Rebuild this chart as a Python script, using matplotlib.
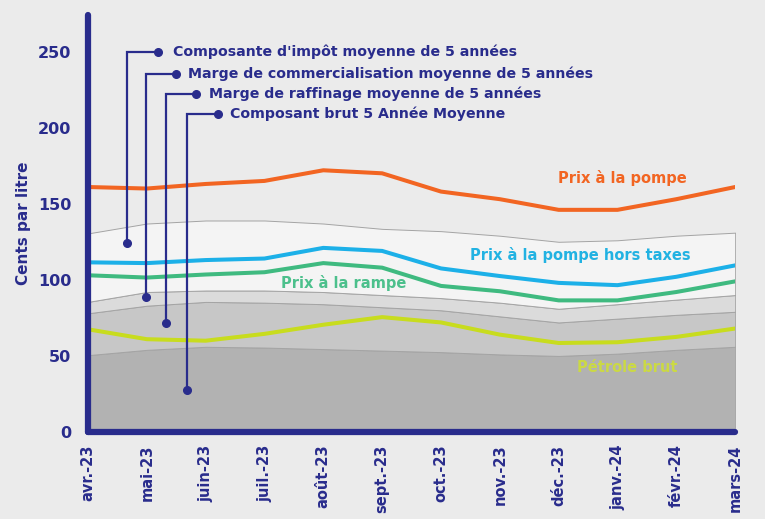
import matplotlib
matplotlib.use('Agg')
import matplotlib.pyplot as plt
import numpy as np

months = ['avr.-23', 'mai-23', 'juin-23', 'juil.-23', 'août-23', 'sept.-23',
          'oct.-23', 'nov.-23', 'déc.-23', 'janv.-24', 'févr.-24', 'mars-24']

# prix mensuels (cents par litre)
pump = [161, 160, 163, 165, 172, 170, 158, 153, 146, 146, 153, 161]
pump_ht = [111.5, 111, 113, 114, 121, 119, 107.5, 102.5, 98, 96.5, 102, 109.5]
rack = [103, 101.5, 103.5, 105, 111, 108, 96, 92.5, 86.5, 86.5, 92, 99]
crude = [67.5, 61, 60, 64.5, 70.5, 75.5, 72, 64, 58.5, 59, 62.5, 68]

# composantes moyennes sur 5 ans (empilées)
avg_crude = [50.5, 54, 56, 55.5, 54.5, 53.5, 52.5, 51, 50, 51.5, 54, 56]
avg_refining = [27.5, 29, 29.5, 29.5, 29.5, 28.5, 27.5, 25, 22, 23, 23, 23]
avg_marketing = [7.5, 9, 7.5, 8, 8, 8, 8, 9, 9, 9.5, 10, 11]
avg_tax = [45, 45, 46, 46, 45, 43.5, 44, 44, 44, 42, 42, 41]

navy = '#292c8c'
bg = '#ebebeb'

fig = plt.figure(figsize=(7.65, 5.19), dpi=100, facecolor=bg)
ax = fig.add_axes([0.115, 0.1676, 0.846, 0.8034], facecolor=bg)

x = np.arange(len(months))
ax.stackplot(x, avg_crude, avg_refining, avg_marketing, avg_tax,
             colors=['#b2b2b2', '#c7c7c7', '#dbdbdb', '#f4f4f4'],
             edgecolor='#a4a4a4', linewidth=0.7, zorder=1)

ax.plot(x, pump, color='#f26522', lw=2.9, zorder=3)
ax.plot(x, pump_ht, color='#1cb0e8', lw=2.9, zorder=3)
ax.plot(x, rack, color='#3fba80', lw=2.9, zorder=3)
ax.plot(x, crude, color='#c8dc1e', lw=2.9, zorder=3)

ax.text(9.08, 167, 'Prix à la pompe', color='#f26522', fontsize=10.5,
        fontweight='bold', ha='center', va='center')
ax.text(8.37, 116.5, 'Prix à la pompe hors taxes', color='#22b2e2', fontsize=10.5,
        fontweight='bold', ha='center', va='center')
ax.text(4.34, 98, 'Prix à la rampe', color='#4cc08c', fontsize=10.5,
        fontweight='bold', ha='center', va='center')
ax.text(9.17, 42.5, 'Pétrole brut', color='#cbd944', fontsize=10.5,
        fontweight='bold', ha='center', va='center')

# lignes de rappel de la légende
legend_items = [
    ("Composante d'impôt moyenne de 5 années", 0.66, 250, 124, 1.19, 1.45),
    ("Marge de commercialisation moyenne de 5 années", 0.99, 235.5, 88.6, 1.50, 1.70),
    ("Marge de raffinage moyenne de 5 années", 1.33, 222, 71.5, 1.84, 2.06),
    ("Composant brut 5 Année Moyenne", 1.68, 209, 27.5, 2.21, 2.41),
]
for label, xv, ytop, ybot, xend, xtext in legend_items:
    ax.plot([xv, xv, xend], [ybot, ytop, ytop], color=navy, lw=1.6, zorder=4,
            solid_joinstyle='miter')
    ax.plot([xv, xend], [ybot, ytop], 'o', color=navy, ms=5.5, zorder=5)
    ax.text(xtext, ytop, label, color=navy, fontsize=10.2, fontweight='bold',
            ha='left', va='center', zorder=5)

ax.set_xlim(0, 11)
ax.set_ylim(0, 274)
ax.set_yticks([0, 50, 100, 150, 200, 250])
ax.set_xticks(x)
ax.set_xticklabels(months, rotation=90)
ax.tick_params(length=0, colors=navy, labelsize=11.5)
ax.tick_params(axis='x', pad=9, labelsize=10.5)
ax.tick_params(axis='y', pad=12)
for lab in ax.get_xticklabels() + ax.get_yticklabels():
    lab.set_fontweight('bold')
    lab.set_color(navy)

for side in ['top', 'right']:
    ax.spines[side].set_visible(False)
for side in ['left', 'bottom']:
    ax.spines[side].set_color(navy)
    ax.spines[side].set_linewidth(4.5)
    ax.spines[side].set_capstyle('round')
    ax.spines[side].set_zorder(6)

ax.set_ylabel('Cents par litre', color=navy, fontsize=11, fontweight='bold',
              labelpad=5)

fig.savefig('out.png', dpi=100, facecolor=bg)
